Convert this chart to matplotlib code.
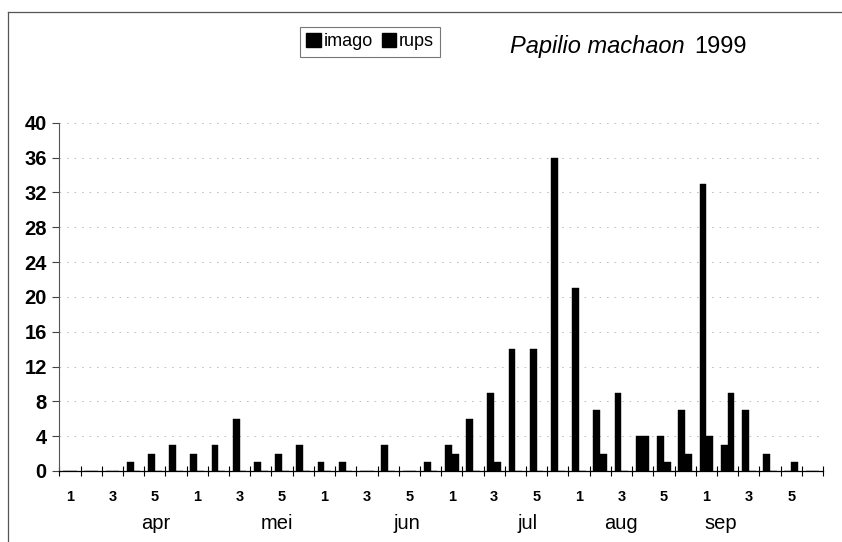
import matplotlib
matplotlib.use("Agg")
import matplotlib.pyplot as plt
from matplotlib.patches import Patch
from matplotlib.lines import Line2D
import numpy as np

plt.rcParams['font.family'] = ['Liberation Sans', 'DejaVu Sans']

months = ["apr", "mei", "jun", "jul", "aug", "sep"]
week_labels = ["1", "", "3", "", "5", ""]

imago = [0, 0, 0, 1, 2, 3,
         2, 3, 6, 1, 2, 3,
         1, 1, 0, 3, 0, 1,
         3, 6, 9, 14, 14, 36,
         21, 7, 9, 4, 4, 7,
         33, 3, 7, 2, 0, 0]
rups = [0, 0, 0, 0, 0, 0,
        0, 0, 0, 0, 0, 0,
        0, 0, 0, 0, 0, 0,
        2, 0, 1, 0, 0, 0,
        0, 2, 0, 4, 1, 2,
        4, 9, 0, 0, 1, 0]
yticks = list(range(0, 41, 4))
series_names = ["imago", "rups"]
title_italic = "Papilio machaon"
title_year = "1999"
# month label positions (category units), as placed in the original
month_label_x = [4.03, 9.75, 15.9, 21.57, 25.97, 30.7]

W, H = 842, 542
fig = plt.figure(figsize=(W / 100, H / 100), dpi=100)
fig.patch.set_facecolor("white")

left_px, right_px, top_px, bot_px = 59.3, 823, 122.7, 471
ax = fig.add_axes([left_px / W, 1 - bot_px / H, (right_px - left_px) / W, (bot_px - top_px) / H])

n = len(imago)
x = np.arange(n)
bw = 0.32
ax.bar(x - bw / 2, imago, width=bw, color="black", edgecolor="black", linewidth=0.3, zorder=3)
ax.bar(x + bw / 2, rups, width=bw, color="black", edgecolor="black", linewidth=0.3, zorder=3)

ax.set_xlim(-0.5, n - 0.5)
ax.set_ylim(0, 40)

ax.set_yticks(yticks)
ax.set_yticklabels([str(v) for v in yticks], fontsize=14.5)
for t in ax.get_yticklabels():
    t.set_fontweight("bold")
ax.tick_params(axis="y", direction="out", length=5, width=0.8, pad=4, color="#444444")

labels = week_labels * len(months)
ax.set_xticks(x)
ax.set_xticklabels(labels, fontsize=10.5, fontweight="bold")
ax.tick_params(axis="x", which="major", length=0, pad=14)
ax.set_xticks(np.arange(-0.5, n + 0.5, 1), minor=True)
ax.tick_params(axis="x", which="minor", direction="inout", length=7, width=0.8)

for sp in ["top", "right"]:
    ax.spines[sp].set_visible(False)
ax.spines["left"].set_color("#555555")
ax.spines["left"].set_linewidth(0.8)
ax.spines["bottom"].set_color("black")
ax.spines["bottom"].set_linewidth(0.9)

for v in yticks[1:]:
    ax.axhline(v, color="#b5b5b5", linewidth=0.6, linestyle=(0, (2, 7)), zorder=1)

for mx, m in zip(month_label_x, months):
    ax.text(mx, -0.152, m, transform=ax.get_xaxis_transform(), ha="center", va="center",
            fontsize=14.5)

# legend
handles = [Patch(facecolor="black", edgecolor="black", label=s) for s in series_names]
leg = fig.legend(handles=handles, loc="upper left", bbox_to_anchor=(300 / W, 1 - 27 / H),
                 ncol=2, frameon=True, fancybox=False, fontsize=13, handlelength=0.8,
                 handleheight=0.8, handletextpad=0.15, columnspacing=0.5, borderpad=0.35,
                 borderaxespad=0)
leg.get_frame().set_edgecolor("#555555")
leg.get_frame().set_linewidth(0.8)

t1 = fig.text(510 / W, 1 - 47 / H, title_italic, fontsize=17, style="italic", ha="left", va="center")
fig.canvas.draw()
bb = t1.get_window_extent()
fig.text((bb.x1 + 10) / W, 1 - 47 / H, title_year, fontsize=17, ha="left", va="center")

# outer frame (left and top edges visible)
fig.add_artist(Line2D([8 / W, 8 / W], [0, 1 - 12 / H], transform=fig.transFigure,
                      color="#555555", linewidth=0.9))
fig.add_artist(Line2D([8 / W, 1], [1 - 12 / H, 1 - 12 / H], transform=fig.transFigure,
                      color="#555555", linewidth=0.9))

fig.savefig("out.png", dpi=100)
